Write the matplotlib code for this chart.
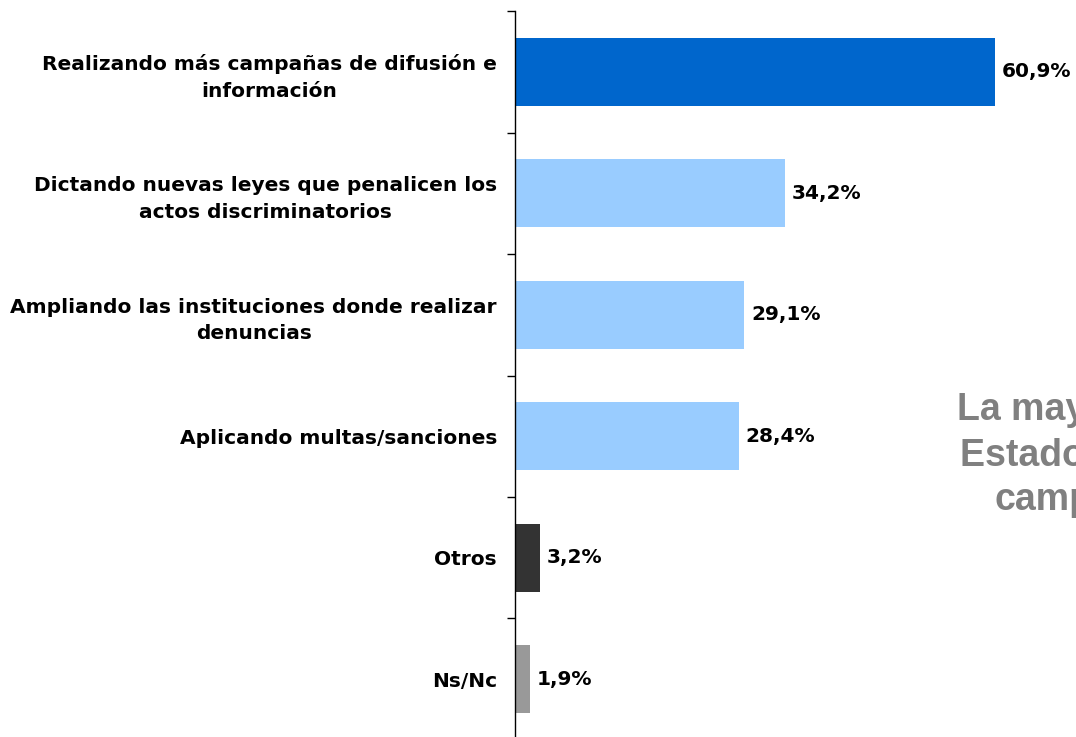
import numpy as np
import matplotlib.pyplot as plt

categorias = [
    "Realizando más campañas de difusión e\ninformación",
    "Dictando nuevas leyes que penalicen los\nactos discriminatorios",
    "Ampliando las instituciones donde realizar\ndenuncias",
    "Aplicando multas/sanciones",
    "Otros",
    "Ns/Nc",
]
valores = [60.9, 34.2, 29.1, 28.4, 3.2, 1.9]
etiquetas = ["60,9%", "34,2%", "29,1%", "28,4%", "3,2%", "1,9%"]
colores = ["#0066CC", "#99CCFF", "#99CCFF", "#99CCFF", "#333333", "#999999"]

plt.rcParams['font.family'] = ['DejaVu Sans']

fig = plt.figure(figsize=(10.76, 7.37), dpi=100)
ax = fig.add_axes([515 / 1076, -0.004, 0.5127, 0.989])

pos = np.arange(len(categorias))
ax.barh(pos, valores, height=0.56, color=colores)

for p, v, t in zip(pos, valores, etiquetas):
    ax.annotate(t, (v, p), xytext=(5, 0), textcoords="offset points",
                va="center", ha="left", fontsize=14.5, fontweight="bold")

ax.set_xlim(0, 70)
ax.set_ylim(len(categorias) - 0.5, -0.5)

# marcas en los limites entre categorias, etiquetas en el centro
ax.set_yticks(np.arange(-0.5, len(categorias), 1.0))
ax.set_yticklabels([])
ax.set_yticks(pos, minor=True)
ax.set_yticklabels(categorias, minor=True, fontsize=14.5, fontweight="bold",
                   multialignment="center", linespacing=1.5)
ax.tick_params(axis="y", which="major", length=6, width=1, direction="out")
ax.tick_params(axis="y", which="minor", length=0, pad=13)
ax.set_xticks([])

for s in ["top", "right", "bottom"]:
    ax.spines[s].set_visible(False)
ax.spines["left"].set_linewidth(1)

# texto lateral (recortado en el borde, como en el original)
gris = "#808080"
lat = dict(fontsize=27, fontweight="bold", color=gris, va="center", ha="left",
           family="Liberation Sans")
fig.text(957 / 1076, 1 - 410 / 737, "La mayoría considera", **lat)
fig.text(960 / 1076, 1 - 456 / 737, "Estado debería realizar", **lat)
fig.text(995 / 1076, 1 - 500 / 737, "campañas", **lat)

plt.savefig("out.png", dpi=100)
